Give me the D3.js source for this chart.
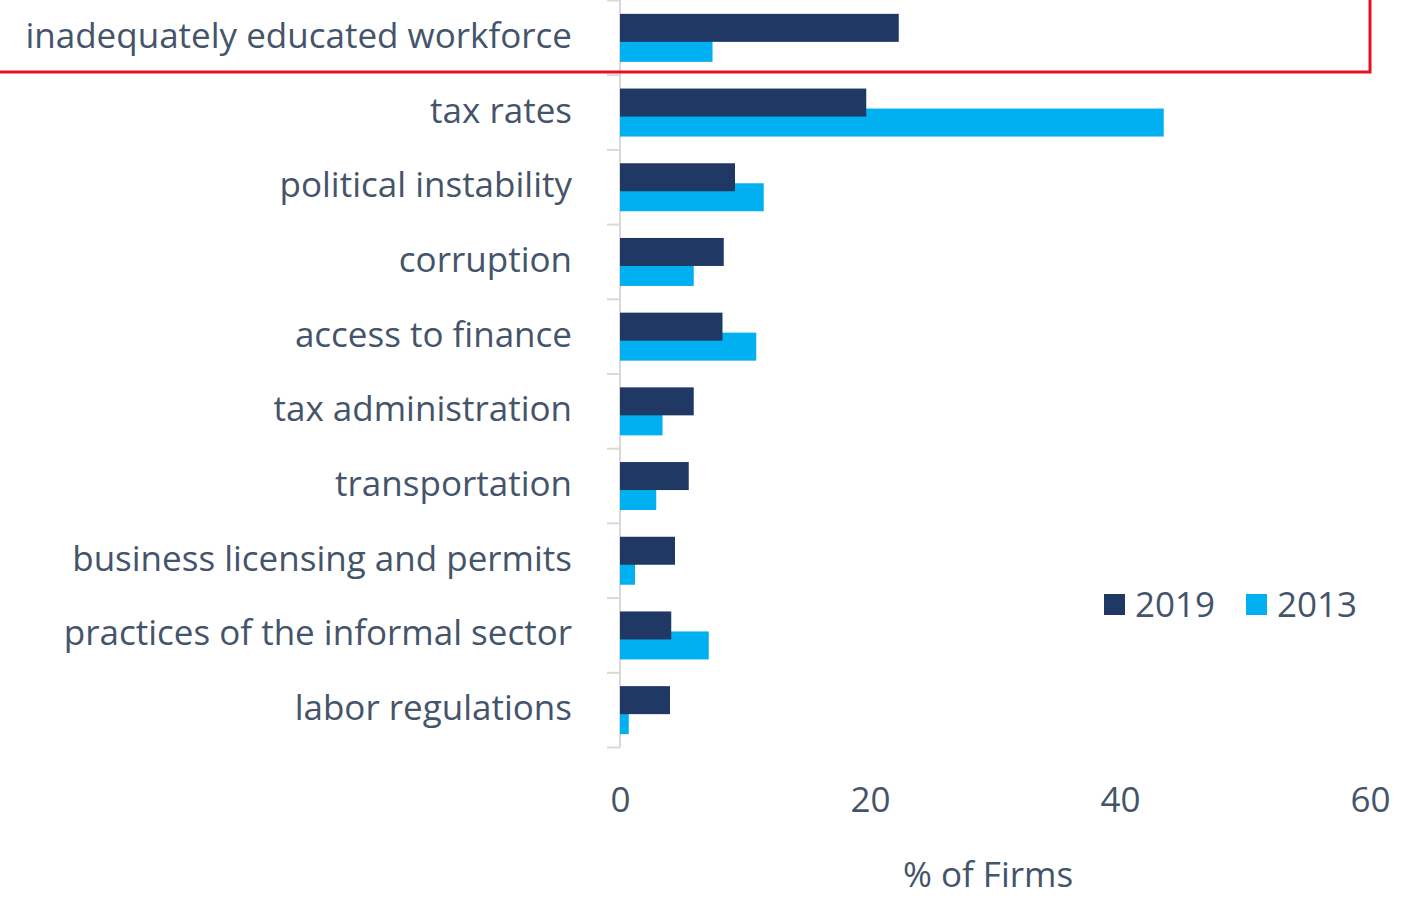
<!DOCTYPE html>
<html>
<head>
<meta charset="utf-8">
<script src="https://cdn.jsdelivr.net/npm/d3@7"></script>
<style>
  body { margin: 0; background: #fff; }
  svg { display: block; font-family: "Open Sans", sans-serif; }
</style>
</head>
<body>
<svg id="chart" width="1410" height="897"></svg>
<script>
const categories = [
  'inadequately educated workforce', 'tax rates', 'political instability', 'corruption',
  'access to finance', 'tax administration', 'transportation',
  'business licensing and permits', 'practices of the informal sector', 'labor regulations'
];
const values2019 = [22.3, 19.7, 9.2, 8.3, 8.2, 5.9, 5.5, 4.4, 4.1, 4.0];
const values2013 = [7.4, 43.5, 11.5, 5.9, 10.9, 3.4, 2.9, 1.2, 7.1, 0.7];
const xTicks = [0, 20, 40, 60];
const seriesNames = ['2019', '2013'];

const navy = '#203864', cyan = '#00b0f0', textColor = '#44546a', axisGray = '#d9d9d9';
const fontSize = 35;

const svg = d3.select('#chart');

const x = d3.scaleLinear().domain([0, 60]).range([620, 1370]);
const y = d3.scaleBand().domain(categories).range([0.5, 747.5]);
const bh = 28;

// axis line and band ticks
svg.append('line')
  .attr('x1', x(0)).attr('x2', x(0))
  .attr('y1', 0).attr('y2', y.range()[1])
  .attr('stroke', axisGray).attr('stroke-width', 2);

const boundaries = categories.map(c => y(c)).concat([y.range()[1]]);
svg.selectAll('.ytick')
  .data(boundaries)
  .enter().append('line')
  .attr('x1', x(0) - 13).attr('x2', x(0))
  .attr('y1', d => d).attr('y2', d => d)
  .attr('stroke', axisGray).attr('stroke-width', 2);

// 2013 behind, 2019 on top
svg.selectAll('.bar2013')
  .data(categories)
  .enter().append('rect')
  .attr('x', x(0))
  .attr('y', d => y(d) + y.bandwidth() / 2 - 4)
  .attr('width', (d, i) => x(values2013[i]) - x(0))
  .attr('height', bh)
  .attr('fill', cyan);

svg.selectAll('.bar2019')
  .data(categories)
  .enter().append('rect')
  .attr('x', x(0))
  .attr('y', d => y(d) + y.bandwidth() / 2 - 24)
  .attr('width', (d, i) => x(values2019[i]) - x(0))
  .attr('height', bh)
  .attr('fill', navy);

// category labels
svg.selectAll('.cat')
  .data(categories)
  .enter().append('text')
  .attr('x', 572)
  .attr('y', d => y(d) + y.bandwidth() / 2 + 10)
  .attr('text-anchor', 'end')
  .attr('font-size', fontSize)
  .attr('fill', textColor)
  .text(d => d);

// x axis
const xAxis = d3.axisBottom(x).tickValues(xTicks).tickSize(0).tickPadding(0);
const gx = svg.append('g').attr('transform', 'translate(0,812)').call(xAxis);
gx.select('.domain').remove();
gx.selectAll('text')
  .attr('font-size', fontSize)
  .attr('font-family', '"Open Sans", sans-serif')
  .attr('fill', textColor)
  .attr('dy', 0);

svg.append('text')
  .attr('x', 988).attr('y', 887)
  .attr('text-anchor', 'middle')
  .attr('font-size', fontSize)
  .attr('fill', textColor)
  .text('% of Firms');

// legend
const legend = svg.append('g');
const legendX = [1104, 1246];
seriesNames.forEach((name, i) => {
  legend.append('rect')
    .attr('x', legendX[i]).attr('y', 594)
    .attr('width', 21).attr('height', 21)
    .attr('fill', i === 0 ? navy : cyan);
  legend.append('text')
    .attr('x', legendX[i] + 31).attr('y', 617)
    .attr('font-size', fontSize)
    .attr('fill', textColor)
    .text(name);
});

// red highlight box
svg.append('rect')
  .attr('x', -10).attr('y', -10)
  .attr('width', 1380).attr('height', 82)
  .attr('fill', 'none')
  .attr('stroke', '#e8101c')
  .attr('stroke-width', 3);
</script>
</body>
</html>
